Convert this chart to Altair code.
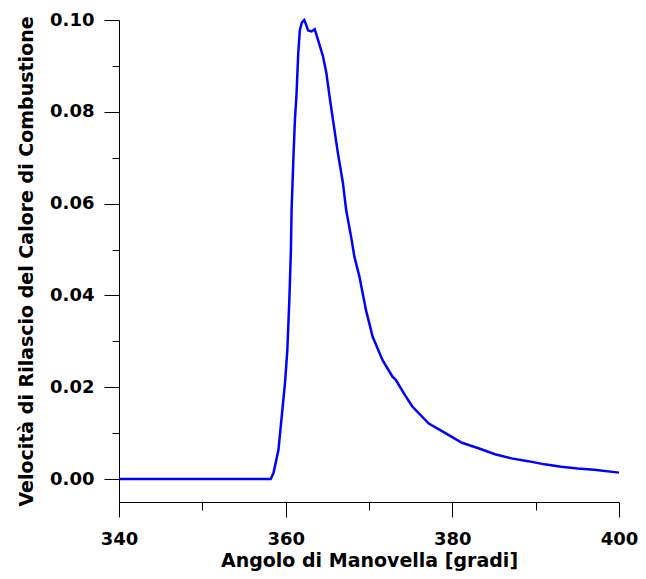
import altair as alt
import pandas as pd

angle = [340, 350, 358.2, 358.54, 359.13, 359.52, 359.92, 360.20, 360.44, 360.63,
         360.71, 360.92, 361.11, 361.31, 361.51, 361.70, 361.95, 362.23, 362.45, 362.70,
         363.1, 363.49, 363.89, 364.49, 364.88, 365.27, 365.68, 366.27, 366.87, 367.26,
         367.86, 368.25, 368.85, 369.64, 370.44, 371.63, 372.82, 373.21, 374.32, 375.20,
         377.18, 379.17, 381.15, 383.13, 385.12, 387.11, 389.08, 391.07, 393.06, 395.04,
         397.02, 400]
rate = [0.0, 0.0, 0.0, 0.0013, 0.0063, 0.0135, 0.0209, 0.0281, 0.0390, 0.0499,
        0.0586, 0.0695, 0.0782, 0.0841, 0.0928, 0.0978, 0.0995, 0.1000, 0.0990, 0.0977,
        0.0975, 0.0980, 0.0956, 0.0920, 0.0885, 0.0833, 0.0782, 0.0710, 0.0645, 0.0586,
        0.0527, 0.0484, 0.0441, 0.0368, 0.0310, 0.0259, 0.0223, 0.0216, 0.0183, 0.0158,
        0.0121, 0.0100, 0.0079, 0.0067, 0.0054, 0.0045, 0.0039, 0.0032, 0.0027, 0.0023,
        0.0020, 0.0014]

x_ticks = [340, 350, 360, 370, 380, 390, 400]
y_ticks = [0.0, 0.01, 0.02, 0.03, 0.04, 0.05, 0.06, 0.07, 0.08, 0.09, 0.10]

df = pd.DataFrame({"angle": angle, "rate": rate})

FONT = "DejaVu Sans"
ymajor = "round(datum.value*100) % 2 === 0"
xmajor = "round(datum.value) % 20 === 0"

chart = alt.Chart(df).mark_line(color="#0000FF", strokeWidth=2.5).encode(
    x=alt.X("angle:Q",
            scale=alt.Scale(domain=[340, 400], nice=False, zero=False),
            axis=alt.Axis(values=x_ticks, grid=False,
                          title="Angolo di Manovella [gradi]",
                          labelExpr=xmajor + " ? datum.label : ''",
                          tickSize={"condition": {"test": xmajor, "value": 15}, "value": 8},
                          labelPadding=13, labelFontSize=18, labelFontWeight="bold",
                          labelFont=FONT, labelColor="black",
                          titleFont=FONT, titleFontSize=19, titleFontWeight="bold",
                          titleColor="black", titleY=64, titleBaseline="alphabetic",
                          domainColor="black", tickColor="black",
                          domainWidth=1, tickWidth=1, labelFlush=False)),
    y=alt.Y("rate:Q",
            scale=alt.Scale(domain=[-0.005, 0.10], nice=False, zero=False),
            axis=alt.Axis(values=y_ticks, grid=False, format=".2f",
                          title="Velocità di Rilascio del Calore di Combustione",
                          labelExpr=ymajor + " ? datum.label : ''",
                          tickSize={"condition": {"test": ymajor, "value": 15}, "value": 7},
                          labelPadding=10, labelFontSize=18, labelFontWeight="bold",
                          labelFont=FONT, labelColor="black",
                          titleFont=FONT, titleFontSize=19, titleFontWeight="bold",
                          titleColor="black", titleX=-87, titleBaseline="alphabetic",
                          domainColor="black", tickColor="black",
                          domainWidth=1, tickWidth=1, labelFlush=False)),
).properties(
    width=500, height=482,
    autosize=alt.AutoSizeParams(type="none"),
    padding={"left": 111, "top": 12, "right": 19, "bottom": 69},
).configure_view(stroke=None)

chart.save("out.html", embed_options={"renderer": "svg", "actions": False})
